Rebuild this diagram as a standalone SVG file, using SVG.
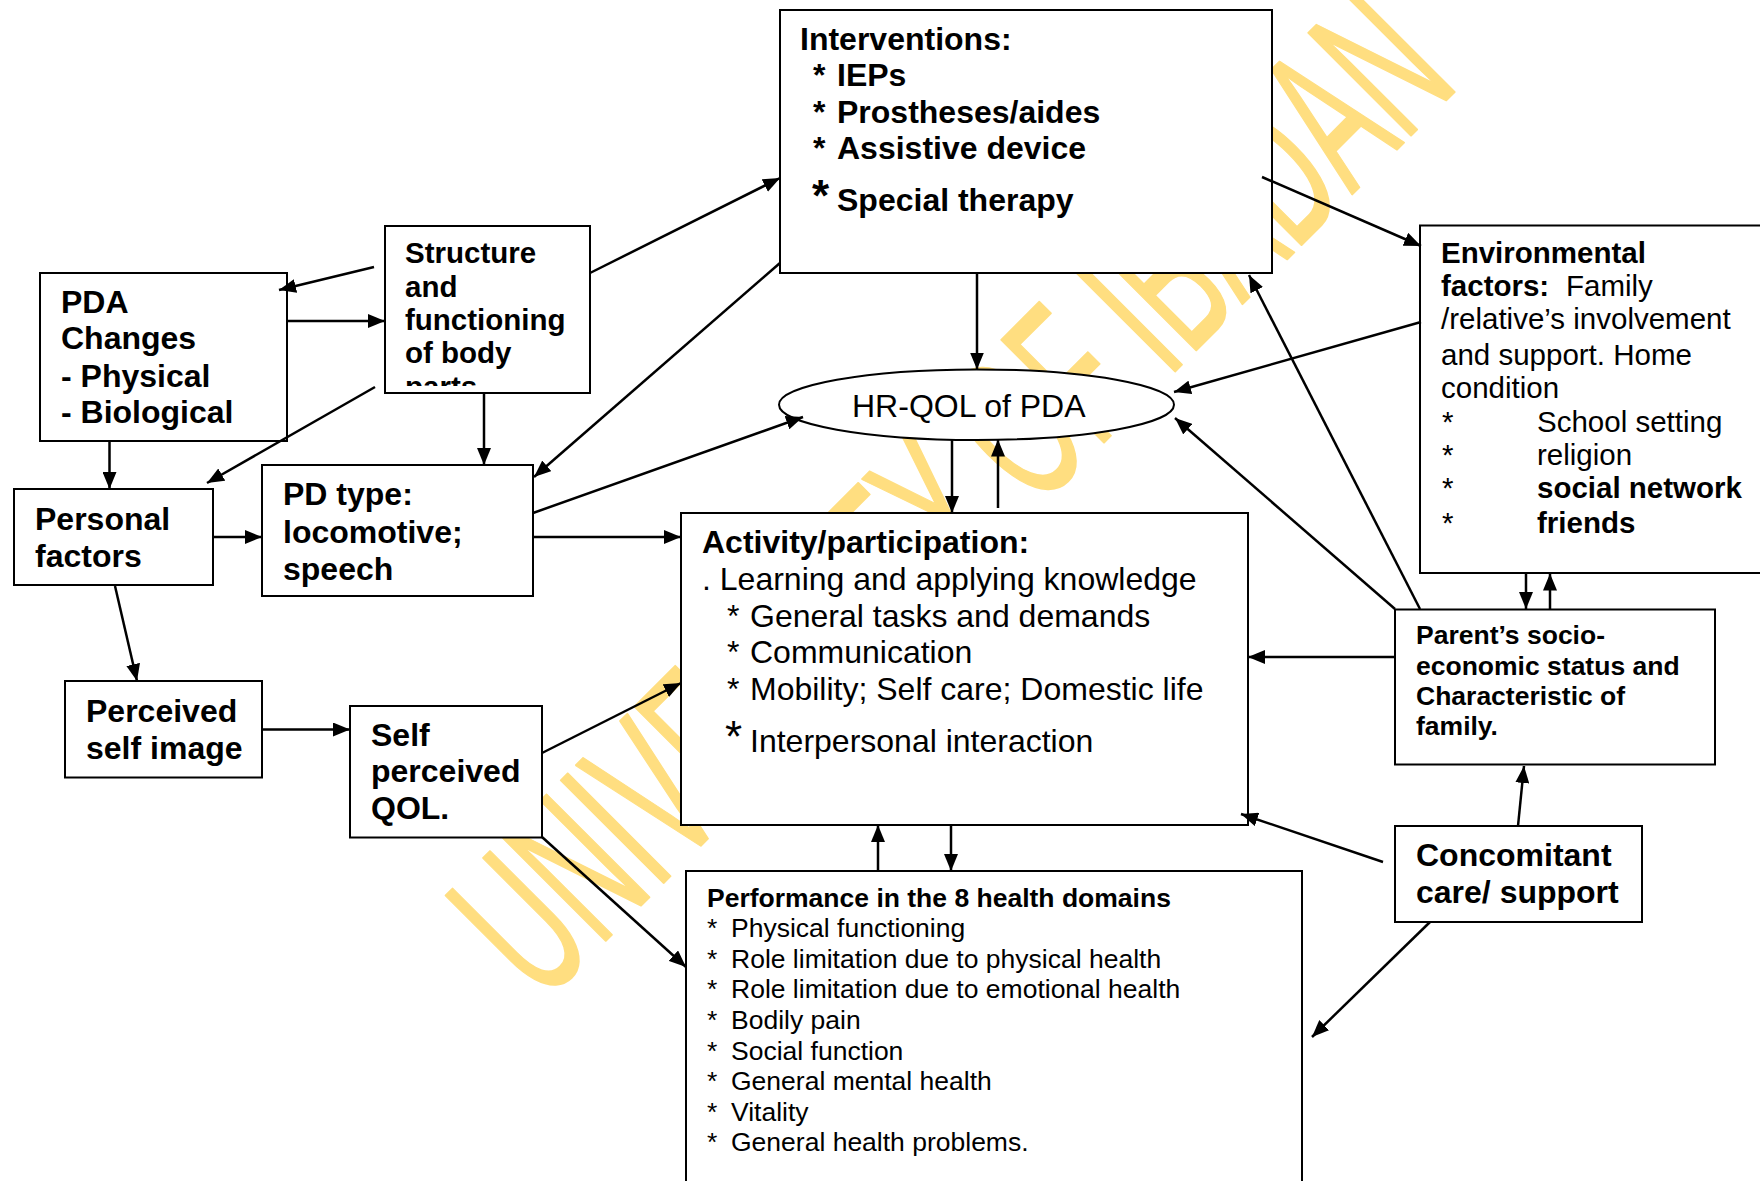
<svg xmlns="http://www.w3.org/2000/svg" width="1760" height="1181" viewBox="0 0 1760 1181">
  <defs>
    <marker id="arrow" markerUnits="userSpaceOnUse" markerWidth="18" markerHeight="14" refX="17" refY="7" orient="auto">
      <path d="M0,0 L17,7 L0,14 z" fill="#000"/>
    </marker>
    <clipPath id="clip-structure">
      <rect x="385" y="226" width="205" height="160"/>
    </clipPath>
  </defs>
  <style>
    .box { fill: #fff; stroke: #000; stroke-width: 2; }
    .edge { stroke: #000; stroke-width: 2.5; fill: none; marker-end: url(#arrow); }
    text { font-family: "Liberation Sans", Arial, sans-serif; fill: #000; }
    .b32 { font-size: 32px; font-weight: bold; }
    .r32 { font-size: 32px; }
    .b29 { font-size: 29.5px; font-weight: bold; }
    .r29 { font-size: 29.5px; }
    .b26 { font-size: 26.5px; font-weight: bold; }
    .r26 { font-size: 26.5px; }
    .star { font-size: 44px; }
    .mark { font-size: 211px; fill: #FFDE80; stroke: #FFDE80; stroke-width: 2; stroke-linejoin: round; }
  </style>
  <rect width="1760" height="1181" fill="#fff"/>

  <!-- background watermark -->
  <g id="watermark">
    <text class="mark" transform="translate(542,1004.5) rotate(-45)" x="0" y="0" textLength="1300" lengthAdjust="spacingAndGlyphs">UNIVERSITY OF IBADAN</text>
  </g>

  <!-- nodes -->
  <g id="interventions">
    <rect class="box" x="780" y="10" width="492" height="263"/>
    <text class="b32" x="800" y="50">Interventions:</text>
    <text class="b32" x="813" y="86">*</text><text class="b32" x="837" y="86">IEPs</text>
    <text class="b32" x="813" y="122.7">*</text><text class="b32" x="837" y="122.7">Prostheses/aides</text>
    <text class="b32" x="813" y="158.7">*</text><text class="b32" x="837" y="158.7">Assistive device</text>
    <text class="b32 star" x="812" y="210.7">*</text><text class="b32" x="837" y="210.7">Special therapy</text>
  </g>

  <g id="structure">
    <rect class="box" x="385" y="226" width="205" height="167"/>
    <g clip-path="url(#clip-structure)">
      <text class="b29" x="405" y="263">Structure</text>
      <text class="b29" x="405" y="296.7">and</text>
      <text class="b29" x="405" y="330">functioning</text>
      <text class="b29" x="405" y="363">of body</text>
      <text class="b29" x="405" y="396.5">parts</text>
    </g>
  </g>

  <g id="pda-changes">
    <rect class="box" x="40" y="273" width="247" height="168"/>
    <text class="b32" x="61" y="313">PDA</text>
    <text class="b32" x="61" y="349">Changes</text>
    <text class="b32" x="61" y="386.5">- Physical</text>
    <text class="b32" x="61" y="423">- Biological</text>
  </g>

  <g id="personal-factors">
    <rect class="box" x="14" y="489" width="199" height="96"/>
    <text class="b32" x="35" y="530">Personal</text>
    <text class="b32" x="35" y="566.7">factors</text>
  </g>

  <g id="pd-type">
    <rect class="box" x="262" y="465" width="271" height="131"/>
    <text class="b32" x="283" y="505">PD type:</text>
    <text class="b32" x="283" y="543.3">locomotive;</text>
    <text class="b32" x="283" y="580">speech</text>
  </g>

  <g id="hr-qol">
    <ellipse class="box" cx="976.5" cy="404.7" rx="197.5" ry="35.3"/>
    <text class="r32" x="852" y="416.7">HR-QOL of PDA</text>
  </g>

  <g id="activity">
    <rect class="box" x="681" y="513" width="567" height="312"/>
    <text class="b32" x="702" y="553.3">Activity/participation:</text>
    <text class="r32" x="702" y="590">. Learning and applying knowledge</text>
    <text class="r32" x="727" y="626.7">*</text><text class="r32" x="750" y="626.7">General tasks and demands</text>
    <text class="r32" x="727" y="663.3">*</text><text class="r32" x="750" y="663.3">Communication</text>
    <text class="r32" x="727" y="700">*</text><text class="r32" x="750" y="700">Mobility; Self care; Domestic life</text>
    <text class="r32 star" x="725" y="751.7">*</text><text class="r32" x="750" y="751.7">Interpersonal interaction</text>
  </g>

  <g id="performance">
    <rect class="box" x="686" y="871" width="616" height="340"/>
    <text class="b26" x="707" y="906.7">Performance in the 8 health domains</text>
    <text class="r26" x="707" y="937.3">*</text><text class="r26" x="731" y="937.3">Physical functioning</text>
    <text class="r26" x="707" y="967.8">*</text><text class="r26" x="731" y="967.8">Role limitation due to physical health</text>
    <text class="r26" x="707" y="998.4">*</text><text class="r26" x="731" y="998.4">Role limitation due to emotional health</text>
    <text class="r26" x="707" y="1029">*</text><text class="r26" x="731" y="1029">Bodily pain</text>
    <text class="r26" x="707" y="1059.6">*</text><text class="r26" x="731" y="1059.6">Social function</text>
    <text class="r26" x="707" y="1090.2">*</text><text class="r26" x="731" y="1090.2">General mental health</text>
    <text class="r26" x="707" y="1120.8">*</text><text class="r26" x="731" y="1120.8">Vitality</text>
    <text class="r26" x="707" y="1151.4">*</text><text class="r26" x="731" y="1151.4">General health problems.</text>
  </g>

  <g id="environmental">
    <rect class="box" x="1420" y="225.5" width="360" height="347.5"/>
    <text class="b29" x="1441" y="263.3">Environmental</text>
    <text class="r29" x="1441" y="296"><tspan font-weight="bold">factors:</tspan><tspan x="1566">Family</tspan></text>
    <text class="r29" x="1441" y="329">/relative’s involvement</text>
    <text class="r29" x="1441" y="364.5">and support. Home</text>
    <text class="r29" x="1441" y="397.5">condition</text>
    <text class="r29" x="1442" y="431.7">*</text><text class="r29" x="1537" y="431.7">School setting</text>
    <text class="r29" x="1442" y="465">*</text><text class="r29" x="1537" y="465">religion</text>
    <text class="r29" x="1442" y="498">*</text><text class="b29" x="1537" y="498">social network</text>
    <text class="r29" x="1442" y="533.3">*</text><text class="b29" x="1537" y="533.3">friends</text>
  </g>

  <g id="parents-status">
    <rect class="box" x="1395" y="609.5" width="320" height="155"/>
    <text class="b26" x="1416" y="644.3">Parent’s socio-</text>
    <text class="b26" x="1416" y="675.3">economic status and</text>
    <text class="b26" x="1416" y="705">Characteristic of</text>
    <text class="b26" x="1416" y="735">family.</text>
  </g>

  <g id="concomitant">
    <rect class="box" x="1395" y="826" width="247" height="96"/>
    <text class="b32" x="1416" y="865.7">Concomitant</text>
    <text class="b32" x="1416" y="903.3">care/ support</text>
  </g>

  <g id="perceived-self-image">
    <rect class="box" x="65" y="681" width="197" height="96.5"/>
    <text class="b32" x="86" y="721.7">Perceived</text>
    <text class="b32" x="86" y="759">self image</text>
  </g>

  <g id="self-perceived-qol">
    <rect class="box" x="350" y="706" width="192" height="131.5"/>
    <text class="b32" x="371" y="745.7">Self</text>
    <text class="b32" x="371" y="782.3">perceived</text>
    <text class="b32" x="371" y="819">QOL.</text>
  </g>

  <!-- connectors -->
  <g id="connectors">
    <line class="edge" x1="374" y1="267" x2="279" y2="290"/>
    <line class="edge" x1="287" y1="321" x2="385" y2="321"/>
    <line class="edge" x1="375" y1="387" x2="207" y2="483"/>
    <line class="edge" x1="109.5" y1="441" x2="109.5" y2="489"/>
    <line class="edge" x1="484" y1="393" x2="484" y2="465"/>
    <line class="edge" x1="213" y1="537" x2="262" y2="537"/>
    <line class="edge" x1="780" y1="263" x2="534" y2="477"/>
    <line class="edge" x1="590" y1="273" x2="780" y2="178"/>
    <line class="edge" x1="533" y1="513" x2="803" y2="417"/>
    <line class="edge" x1="533" y1="537" x2="681" y2="537"/>
    <line class="edge" x1="977" y1="273" x2="977" y2="369.5"/>
    <line class="edge" x1="952" y1="440" x2="952" y2="513"/>
    <line class="edge" x1="998" y1="508" x2="998" y2="439.5"/>
    <line class="edge" x1="1262" y1="177" x2="1421" y2="246"/>
    <line class="edge" x1="1421" y1="322" x2="1174" y2="392"/>
    <line class="edge" x1="1395" y1="609" x2="1175" y2="418"/>
    <line class="edge" x1="1420" y1="609" x2="1249" y2="275"/>
    <line class="edge" x1="1526" y1="573" x2="1526" y2="609"/>
    <line class="edge" x1="1550" y1="609" x2="1550" y2="573.5"/>
    <line class="edge" x1="1395" y1="657" x2="1248" y2="657"/>
    <line class="edge" x1="1383" y1="862" x2="1241" y2="814"/>
    <line class="edge" x1="1518" y1="826" x2="1524" y2="766"/>
    <line class="edge" x1="1430" y1="922" x2="1312" y2="1037"/>
    <line class="edge" x1="878" y1="871" x2="878" y2="825"/>
    <line class="edge" x1="951" y1="825" x2="951" y2="871"/>
    <line class="edge" x1="115" y1="586" x2="137" y2="681"/>
    <line class="edge" x1="262" y1="729.5" x2="350" y2="729.5"/>
    <line class="edge" x1="542" y1="753" x2="681" y2="683"/>
    <line class="edge" x1="542" y1="837" x2="686" y2="967"/>
  </g>
</svg>
